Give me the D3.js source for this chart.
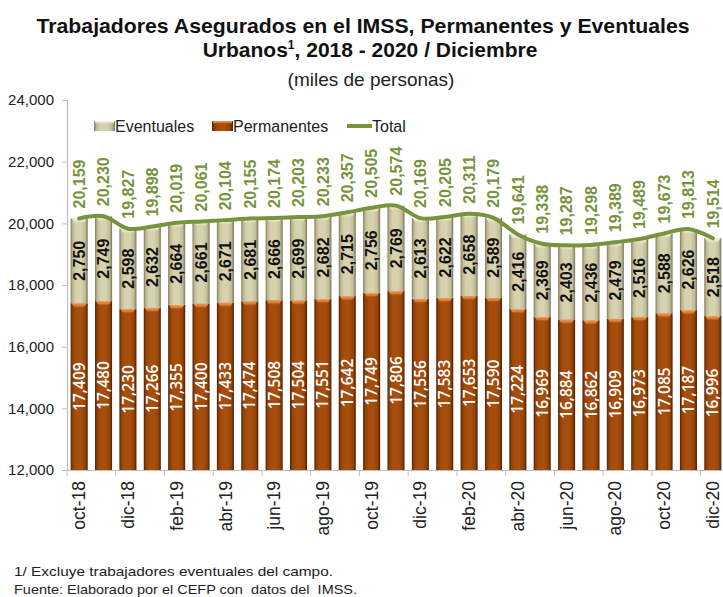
<!DOCTYPE html>
<html><head><meta charset="utf-8">
<script src="https://cdn.jsdelivr.net/npm/d3@7"></script>
<style>
html,body{margin:0;padding:0;background:#fff;}
svg{display:block;}
</style></head>
<body>
<svg id="chart" width="723" height="597"></svg>
<script>
const months = ["oct-18","nov-18","dic-18","ene-19","feb-19","mar-19","abr-19","may-19","jun-19","jul-19","ago-19","sep-19","oct-19","nov-19","dic-19","ene-20","feb-20","mar-20","abr-20","may-20","jun-20","jul-20","ago-20","sep-20","oct-20","nov-20","dic-20"];
const permanentes = [17409,17480,17230,17266,17355,17400,17433,17474,17508,17504,17551,17642,17749,17806,17556,17583,17653,17590,17224,16969,16884,16862,16909,16973,17085,17187,16996];
const eventuales = [2750,2749,2598,2632,2664,2661,2671,2681,2666,2699,2682,2715,2756,2769,2613,2622,2658,2589,2416,2369,2403,2436,2479,2516,2588,2626,2518];
const totals = [20159,20230,19827,19898,20019,20061,20104,20155,20174,20203,20233,20357,20505,20574,20169,20205,20311,20179,19641,19338,19287,19298,19389,19489,19673,19813,19514];
const yTicks = [12000,14000,16000,18000,20000,22000,24000];
const xTickLabels = ["oct-18","dic-18","feb-19","abr-19","jun-19","ago-19","oct-19","dic-19","feb-20","abr-20","jun-20","ago-20","oct-20","dic-20"];

const svg = d3.select("#chart");
const FONT = "'Liberation Sans', Arial, sans-serif";
const GREEN = "#77933C";

const pad = 0.3;
const x = d3.scaleBand().domain(months).range([67, 725]).paddingInner(pad).paddingOuter(pad/2);
const y = d3.scaleLinear().domain([12000, 24000]).range([470, 100]);

// gradients
const defs = svg.append("defs");
function hGrad(id, stops){
  const g = defs.append("linearGradient").attr("id", id).attr("x1","0").attr("x2","1").attr("y1","0").attr("y2","0");
  stops.forEach(s => g.append("stop").attr("offset", s[0]).attr("stop-color", s[1]));
}
hGrad("gPerm", [[0,"#4f2304"],[0.12,"#8f3f08"],[0.3,"#A64D0C"],[0.6,"#A84F0E"],[0.85,"#94420a"],[1,"#4a2104"]]);
hGrad("gEvt", [[0,"#7d7a60"],[0.12,"#bdb893"],[0.3,"#D6D1AC"],[0.6,"#D8D3AF"],[0.85,"#c2bd98"],[1,"#77745b"]]);
function vGrad(id, stops){
  const g = defs.append("linearGradient").attr("id", id).attr("x1","0").attr("x2","0").attr("y1","0").attr("y2","1");
  stops.forEach(s => g.append("stop").attr("offset", s[0]).attr("stop-color", s[1]).attr("stop-opacity", s[2]));
}
vGrad("capPerm", [[0,"#F0A060",1],[0.6,"#D9782F",0.9],[1,"#A84F0E",0]]);
vGrad("capEvt", [[0,"#F7F5E6",1],[0.6,"#EAE6CC",0.8],[1,"#D8D3AF",0]]);

// Title
svg.append("text").attr("x", 363).attr("y", 33).attr("text-anchor","middle")
  .attr("font-family", FONT).attr("font-weight","bold").attr("font-size", 21).attr("fill","#111")
  .attr("textLength", 653).attr("lengthAdjust","spacingAndGlyphs")
  .text("Trabajadores Asegurados en el IMSS, Permanentes y Eventuales");
const t2 = svg.append("text").attr("x", 370).attr("y", 57).attr("text-anchor","middle")
  .attr("font-family", FONT).attr("font-weight","bold").attr("font-size", 21).attr("fill","#111");
t2.append("tspan").text("Urbanos");
t2.append("tspan").attr("font-size", 12).attr("dy", -8).text("1");
t2.append("tspan").attr("dy", 8).text(", 2018 - 2020 / Diciembre");
svg.append("text").attr("x", 371).attr("y", 86).attr("text-anchor","middle")
  .attr("font-family", FONT).attr("font-size", 19).attr("fill","#222")
  .text("(miles de personas)");

// Bars
const rows = months.map((m,i)=>({m, p: permanentes[i], e: eventuales[i], t: totals[i]}));
const bw = x.bandwidth();
const gBars = svg.append("g");
rows.forEach(d => {
  const x0 = x(d.m);
  const yPtop = y(d.p);
  const yEtop = y(d.p + d.e);
  gBars.append("rect").attr("x", x0).attr("y", yPtop).attr("width", bw).attr("height", y(12000) - yPtop).attr("fill","url(#gPerm)");
  gBars.append("path").attr("d", `M${x0+1},${yPtop} L${x0+bw-1},${yPtop} L${x0+bw-4},${yPtop+5} L${x0+4},${yPtop+5} Z`).attr("fill","url(#capPerm)");
  gBars.append("rect").attr("x", x0).attr("y", yEtop).attr("width", bw).attr("height", yPtop - yEtop).attr("fill","url(#gEvt)");
  gBars.append("path").attr("d", `M${x0+1},${yEtop} L${x0+bw-1},${yEtop} L${x0+bw-4},${yEtop+5} L${x0+4},${yEtop+5} Z`).attr("fill","url(#capEvt)");
});

// Axes
const yAxis = svg.append("g").attr("transform","translate(67,0)")
  .call(d3.axisLeft(y).tickValues(yTicks).tickFormat(d3.format(",")).tickSize(5).tickPadding(8));
yAxis.select(".domain").attr("stroke","#BFBFBF").attr("stroke-width",1.2);
yAxis.selectAll(".tick line").attr("stroke","#BFBFBF");
yAxis.selectAll(".tick text").attr("font-family", FONT).attr("font-size", 15).attr("fill","#222");

const xAxis = svg.append("g").attr("transform","translate(0,470)")
  .call(d3.axisBottom(x).tickSize(0).tickFormat(d => xTickLabels.includes(d) ? d : ""));
xAxis.select(".domain").attr("stroke","#BFBFBF").attr("stroke-width",1.2);
xAxis.selectAll(".tick text")
  .attr("font-family", FONT).attr("font-size", 17.5).attr("fill","#222")
  .attr("text-anchor","end").attr("dy","0.35em")
  .attr("transform","translate(0,11) rotate(-90)").attr("x",0).attr("y",0);
const half = x.step()*pad/2;
months.forEach((m,i) => {
  if (i % 2 === 0) {
    const bx = x(m) - half;
    xAxis.append("line").attr("x1", bx).attr("x2", bx).attr("y1", 0).attr("y2", 6).attr("stroke","#BFBFBF");
  }
});

// Line
const line = d3.line().x(d => x(d.m) + bw/2).y(d => y(d.t)).curve(d3.curveCardinal.tension(0));
svg.append("path").datum(rows).attr("d", line).attr("fill","none").attr("stroke", GREEN).attr("stroke-width", 4).attr("stroke-linecap","round");

// Labels
const fmt = d3.format(",");
const gLab = svg.append("g");
rows.forEach(d => {
  const cx = x(d.m) + bw/2;
  gLab.append("text").attr("transform", `translate(${cx},${y(d.t) - 10}) rotate(-90)`)
    .attr("text-anchor","start").attr("dy","0.36em")
    .attr("font-family", FONT).attr("font-weight","bold").attr("font-size", 16).attr("fill", GREEN)
    .text(fmt(d.t));
  const ye = (y(d.p) + y(d.p + d.e))/2;
  gLab.append("text").attr("transform", `translate(${cx},${ye}) rotate(-90)`)
    .attr("text-anchor","middle").attr("dy","0.36em")
    .attr("font-family", FONT).attr("font-weight","bold").attr("font-size", 16).attr("fill", "#111")
    .text(fmt(d.e));
  const yp = (y(12000) + y(d.p))/2;
  gLab.append("text").attr("transform", `translate(${cx},${yp}) rotate(-90)`)
    .attr("text-anchor","middle").attr("dy","0.36em")
    .attr("font-family", "'Open Sans', sans-serif").attr("font-weight", 600).attr("font-size", 15.5).attr("fill", "#fff")
    .text(fmt(d.p));
});

// Legend
const lg = svg.append("g");
const ly = 126;
lg.append("rect").attr("x", 94).attr("y", ly-5).attr("width", 21).attr("height", 10).attr("fill","url(#gEvt)");
lg.append("rect").attr("x", 95).attr("y", ly-5).attr("width", 19).attr("height", 3).attr("fill","url(#capEvt)");
lg.append("text").attr("x", 115).attr("y", ly).attr("dy","0.35em").attr("font-family", FONT).attr("font-size", 16).attr("fill","#222").text("Eventuales");
lg.append("rect").attr("x", 212).attr("y", ly-5).attr("width", 21).attr("height", 10).attr("fill","url(#gPerm)");
lg.append("rect").attr("x", 213).attr("y", ly-5).attr("width", 19).attr("height", 3).attr("fill","url(#capPerm)");
lg.append("text").attr("x", 233).attr("y", ly).attr("dy","0.35em").attr("font-family", FONT).attr("font-size", 16).attr("fill","#222").text("Permanentes");
lg.append("line").attr("x1", 347).attr("x2", 372).attr("y1", ly).attr("y2", ly).attr("stroke", GREEN).attr("stroke-width", 4);
lg.append("text").attr("x", 372).attr("y", ly).attr("dy","0.35em").attr("font-family", FONT).attr("font-size", 16).attr("fill","#222").text("Total");

// Footnotes
svg.append("text").attr("x", 14).attr("y", 576).attr("font-family", FONT).attr("font-size", 13.5).attr("fill","#222")
  .attr("textLength", 319).attr("lengthAdjust","spacingAndGlyphs")
  .text("1/ Excluye trabajadores eventuales del campo.");
svg.append("text").attr("x", 14).attr("y", 594).attr("font-family", FONT).attr("font-size", 13.5).attr("fill","#222")
  .attr("textLength", 343).attr("lengthAdjust","spacingAndGlyphs").attr("xml:space","preserve")
  .text("Fuente: Elaborado por el CEFP con  datos del  IMSS.");
</script>
</body></html>
